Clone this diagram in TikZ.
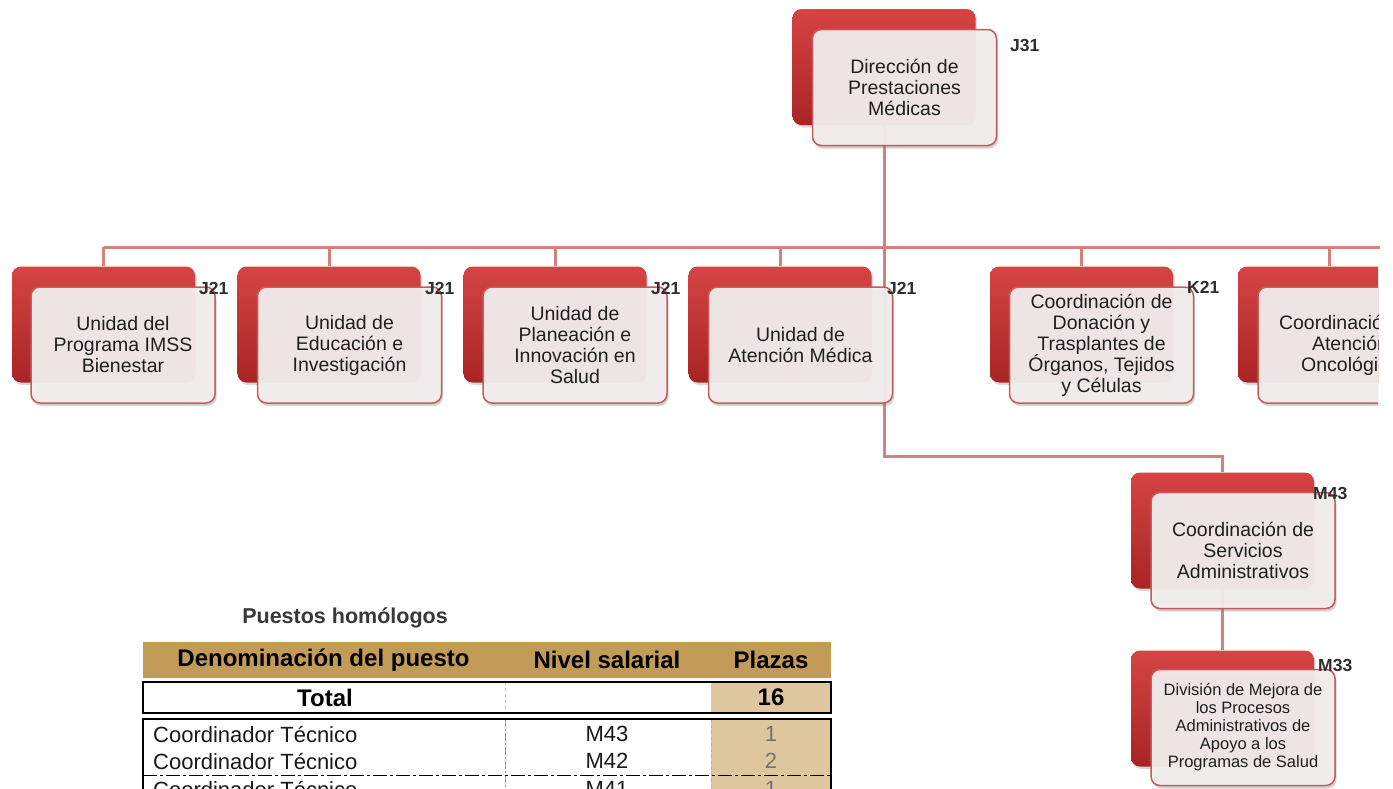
\documentclass[tikz,border=0pt]{standalone}
\usepackage{fontspec}
\setmainfont{Liberation Sans}
\usetikzlibrary{shadows,backgrounds}
\definecolor{linec}{HTML}{D47F80}
\definecolor{redtop}{HTML}{D64444}
\definecolor{redbot}{HTML}{A82424}
\definecolor{frontfill}{HTML}{F3EEEE}
\definecolor{frontdraw}{HTML}{C95A5C}
\definecolor{gold}{HTML}{C29B57}
\definecolor{tanc}{HTML}{DEC79E}
\definecolor{lblc}{HTML}{2E2E2E}
\tikzset{
  backbox/.style={rounded corners=9pt, minimum width=183pt, minimum height=116pt, inner sep=0pt,
    top color=redtop, bottom color=redbot, draw=none,
    drop shadow={opacity=0.3, shadow xshift=1.5pt, shadow yshift=-2.5pt}},
  frontbox/.style={rounded corners=9pt, minimum width=184pt, minimum height=116pt, inner sep=0pt,
    fill=frontfill, fill opacity=0.94, text opacity=1, draw=frontdraw, line width=1.5pt,
    align=center, font=\fontsize{19.5}{21}\selectfont, text=black!88,
    drop shadow={opacity=0.35, shadow xshift=1.5pt, shadow yshift=-3pt}},
  smalltxt/.style={font=\fontsize{16.5}{18}\selectfont},
  lvl/.style={font=\bfseries\fontsize{17.5}{17.5}\selectfont, text=lblc, anchor=west, inner sep=0pt},
  conn/.style={draw=linec, line width=3pt},
  hdr/.style={font=\bfseries\fontsize{24}{24}\selectfont, text=black, inner sep=0pt},
  cell/.style={font=\fontsize{22}{22}\selectfont, text=black!90, inner sep=0pt},
  numc/.style={font=\fontsize{22}{22}\selectfont, text=black!55, inner sep=0pt},
}
\begin{document}
\begin{tikzpicture}[x=1pt,y=-1pt]
\useasboundingbox (0,0) rectangle (1393,788);
\clip (0,0) rectangle (1378,788);
% --- boxes ---
\node[backbox] (topback) at (884,67) {};
\node[frontbox] (top) at (904.5,87.5) {Dirección de\\Prestaciones\\Médicas};

\node[backbox] (b1back) at (103.5,324.5) {};
\node[frontbox] (b1) at (123,345) {Unidad del\\Programa IMSS\\Bienestar};
\node[backbox] (b2back) at (329,324.5) {};
\node[frontbox] (b2) at (349.5,345) {Unidad de\\Educación e\\Investigación};
\node[backbox] (b3back) at (555,324.5) {};
\node[frontbox] (b3) at (575,345) {Unidad de\\Planeación e\\Innovación en\\Salud};
\node[backbox] (b4back) at (780,324.5) {};
\node[frontbox] (b4) at (800.5,345) {Unidad de\\Atención Médica};
\node[backbox] (b5back) at (1081.5,324.5) {};
\node[frontbox] (b5) at (1101.5,345) {Coordinación de\\Donación y\\Trasplantes de\\Órganos, Tejidos\\y Células};
\node[backbox] (b6back) at (1329.5,324.5) {};
\node[frontbox] (b6) at (1350,345) {Coordinación de\\Atención\\Oncológica};

\node[backbox] (m43back) at (1222.5,530.5) {};
\node[frontbox] (m43) at (1243,550.5) {Coordinación de\\Servicios\\Administrativos};
\node[backbox] (m33back) at (1222.5,708.5) {};
\node[frontbox, smalltxt] (m33) at (1243,727.5) {División de Mejora de\\los Procesos\\Administrativos de\\Apoyo a los\\Programas de Salud};

% --- labels ---
\node[lvl] (l0) at (1010,45) {J31};
\node[lvl] (l1) at (199,288) {J21};
\node[lvl] (l2) at (425,288) {J21};
\node[lvl] (l3) at (651,288) {J21};
\node[lvl] (l4) at (887,288) {J21};
\node[lvl] (l5) at (1187,287) {K21};
\node[lvl] (l6) at (1313,493) {M43};
\node[lvl] (l7) at (1318,665) {M33};

% --- connectors ---
\coordinate (bus) at (884,247);
\coordinate (busend) at (1380,247);
\coordinate (elbow) at (884,456);
\begin{scope}[on background layer]
\draw[conn] (b1back.north |- bus) -- (busend);
\draw[conn] (topback.south) -- (elbow) -| (m43back.north);
\foreach \b in {b1back,b2back,b3back,b4back,b5back,b6back}
  \draw[conn] (\b.north) -- (\b.north |- bus);
\draw[conn] (m43back.south) -- (m33back.north);
\end{scope}

% --- table ---
\node[font=\bfseries\fontsize{21.5}{21.5}\selectfont, text=black!78, inner sep=0pt] (ttl) at (345,618) {Puestos homólogos};
\fill[gold] (143,642) rectangle (831,678);
\node[hdr] (h1) at (323.5,660) {Denominación del puesto};
\node[hdr] (h2) at (607,660) {Nivel salarial};
\node[hdr] (h3) at (771,660) {Plazas};

\fill[tanc] (711,682) rectangle (831,713);
\draw[black!25, line width=0.6pt, dashed] (505,682) -- (505,713);
\draw[black, line width=1.3pt] (143,682) rectangle (831,713);
\node[hdr] (tot) at (325,697.5) {Total};
\node[hdr] (totn) at (771,697.5) {16};

\fill[tanc] (711,719) rectangle (831,790);
\draw[black!40, line width=0.6pt, dash pattern=on 8pt off 2pt on 2pt off 2pt] (505,719) -- (505,790);
\draw[black!30, line width=0.6pt, dashed] (711,719) -- (711,790);
\draw[black, line width=1.3pt] (143,790) -- (143,719) -- (831,719) -- (831,790);
\draw[black, line width=1pt, dash pattern=on 14pt off 3pt on 3pt off 3pt] (143,775) -- (831,775);
\node[cell, anchor=west] (r1a) at (153,734) {Coordinador Técnico};
\node[cell] (r1b) at (607,734) {M43};
\node[numc] (r1c) at (771,734) {1};
\node[cell, anchor=west] (r2a) at (153,761) {Coordinador Técnico};
\node[cell] (r2b) at (607,761) {M42};
\node[numc] (r2c) at (771,761) {2};
\node[cell, anchor=west] (r3a) at (153,789) {Coordinador Técnico};
\node[cell] (r3b) at (607,789) {M41};
\node[numc] (r3c) at (771,789) {1};
\end{tikzpicture}
\end{document}
